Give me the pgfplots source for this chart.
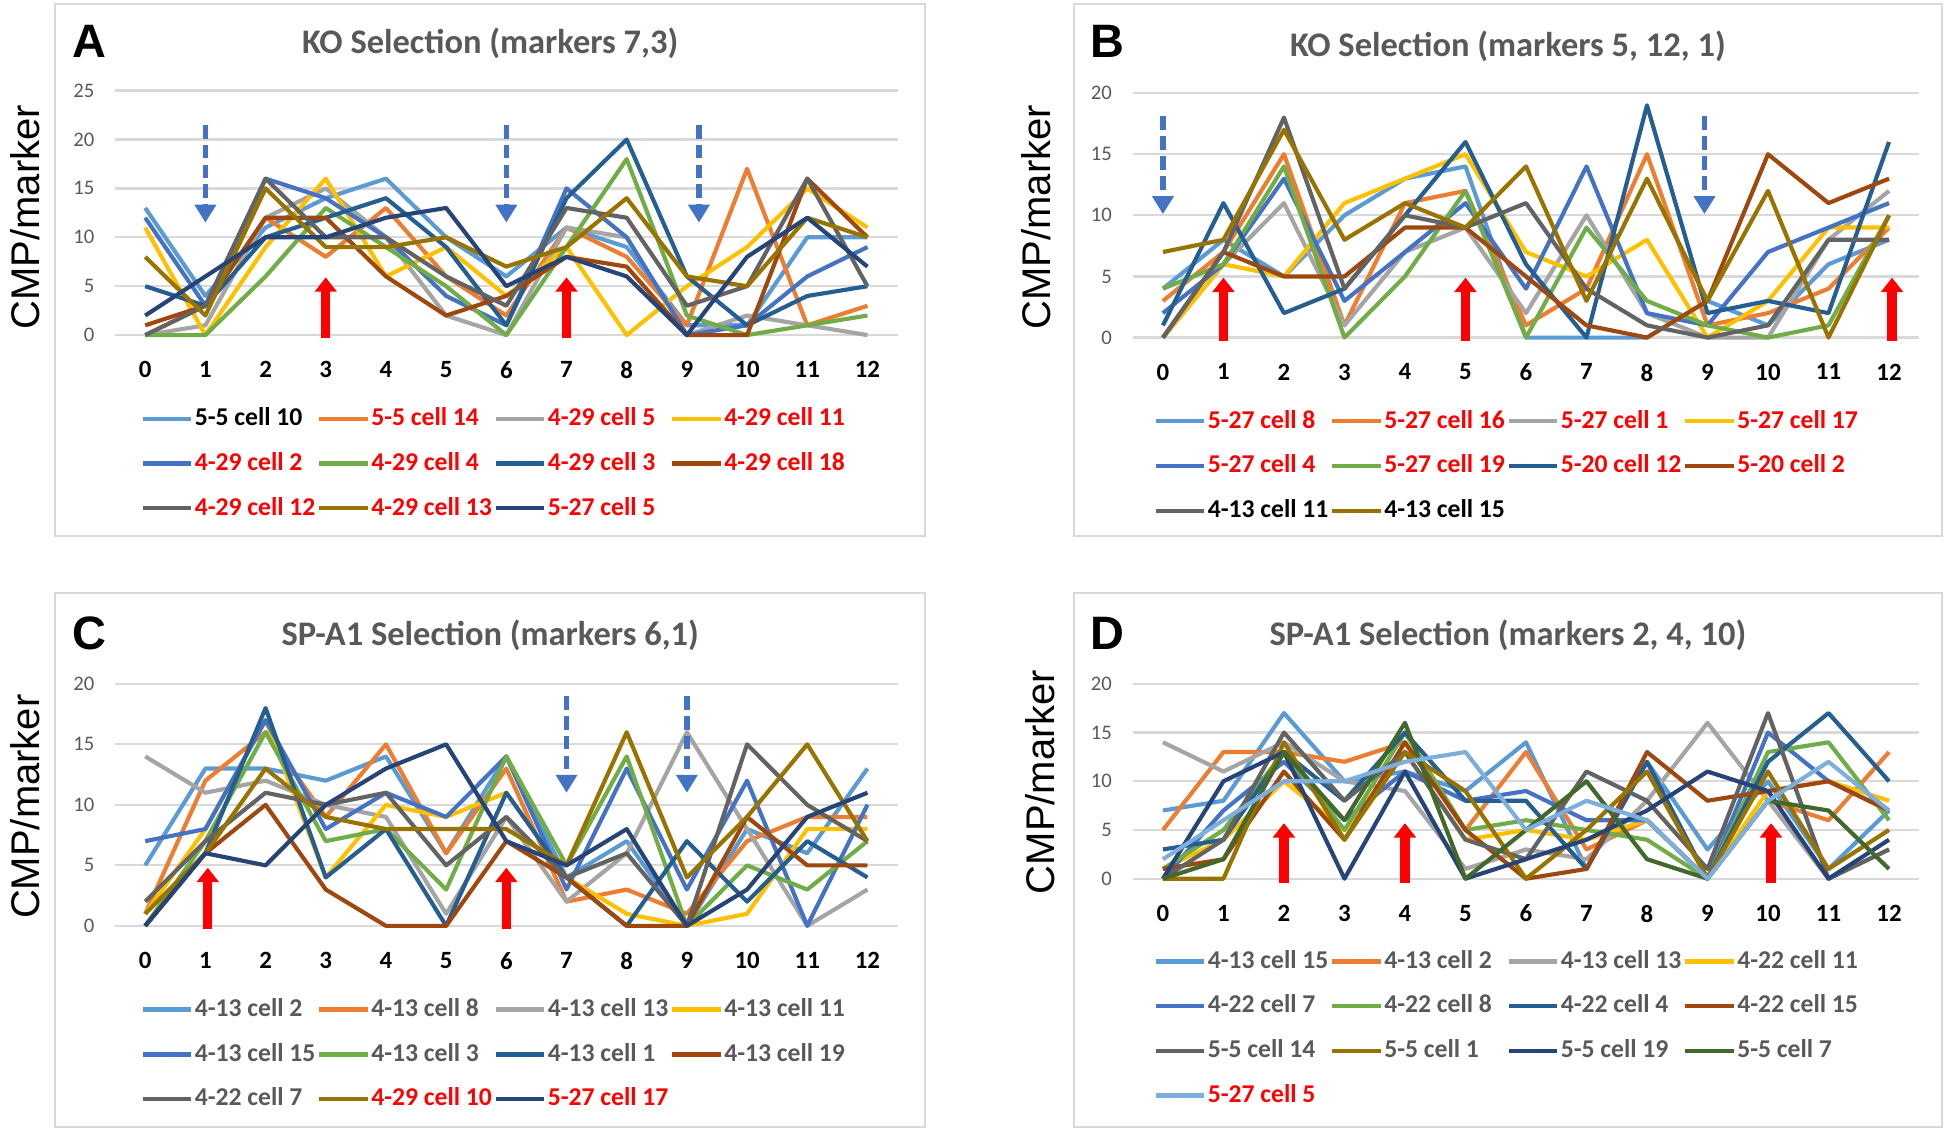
\documentclass[border=0pt]{standalone}
\usepackage{fontspec}
\setmainfont{Carlito}
\newfontfamily\arialfont{Liberation Sans}
\usepackage{pgfplots}
\pgfplotsset{compat=1.18}
\usetikzlibrary{arrows.meta}
\definecolor{c1}{HTML}{5B9BD5}
\definecolor{c2}{HTML}{ED7D31}
\definecolor{c3}{HTML}{A5A5A5}
\definecolor{c4}{HTML}{FFC000}
\definecolor{c5}{HTML}{4472C4}
\definecolor{c6}{HTML}{70AD47}
\definecolor{c7}{HTML}{255E91}
\definecolor{c8}{HTML}{9E480E}
\definecolor{c9}{HTML}{636363}
\definecolor{c10}{HTML}{997300}
\definecolor{c11}{HTML}{264478}
\definecolor{c12}{HTML}{43682B}
\definecolor{c13}{HTML}{7CAFDD}
\definecolor{gridgray}{HTML}{D9D9D9}
\definecolor{boxgray}{HTML}{D9D9D9}
\definecolor{txtgray}{HTML}{595959}
\definecolor{arrblue}{HTML}{4472C4}
\definecolor{myred}{HTML}{FF0000}
\newcommand{\R}[1]{\makebox[41.9pt][l]{\textcolor{myred}{#1}}}
\newcommand{\K}[1]{\makebox[41.9pt][l]{\textcolor{black}{#1}}}
\newcommand{\G}[1]{\makebox[41.9pt][l]{\textcolor{txtgray}{#1}}}
\tikzset{
  bluearr/.style={arrblue, line width=1.9pt, dash pattern=on 5pt off 2.2pt, -{Triangle[width=7.5pt,length=6.5pt]}},
  redarr/.style={myred, line width=3.4pt, -{Triangle[width=7.8pt,length=5.2pt]}},
}
\pgfplotsset{
  panel/.style={
    scale only axis,
    xmin=-0.5, xmax=12.5, ymin=0,
    axis line style={draw=none},
    tick style={draw=none},
    major tick length=0pt,
    xtick={0,...,12},
    ymajorgrids,
    grid style={color=gridgray, line width=0.8pt},
    /pgf/number format/assume math mode=true,
    xticklabel style={font=\fontsize{9}{10}\selectfont\bfseries, text=black, yshift=-6pt},
    yticklabel style={font=\fontsize{7.5}{9}\selectfont, text=txtgray, xshift=-4pt},
    clip=false,
    legend columns=4,
    legend cell align=left,
    legend style={draw=none, fill=none, inner sep=0pt, row sep=4.2pt,
      nodes={inner xsep=0.5pt},
      font=\fontsize{9.3}{10}\selectfont\bfseries,
      /tikz/every even column/.append style={column sep=2pt},
      anchor=north west},
    legend image code/.code={\draw[##1, line width=1.6pt] (0pt,0pt) -- (17.5pt,0pt);},
    every axis plot/.append style={line width=1.5pt, mark=none, line join=round},
  },
}
\begin{document}
\begin{tikzpicture}
\useasboundingbox (0,0) rectangle (705.6pt,410.85pt);
% panel boxes
\draw[boxgray, line width=0.7pt] (19.8pt,216.45pt) rectangle (335.25pt,409.5pt);
\draw[boxgray, line width=0.7pt] (389.25pt,216.45pt) rectangle (704.25pt,409.5pt);
\draw[boxgray, line width=0.7pt] (19.8pt,2.25pt) rectangle (335.25pt,195.75pt);
\draw[boxgray, line width=0.7pt] (389.25pt,2.25pt) rectangle (704.25pt,195.75pt);
% letters
\node[font=\arialfont\bfseries\fontsize{17}{17}\selectfont] at (32.4pt,396pt) {A};
\node[font=\arialfont\bfseries\fontsize{17}{17}\selectfont] at (401.4pt,396pt) {B};
\node[font=\arialfont\bfseries\fontsize{17}{17}\selectfont] at (32.4pt,181.35pt) {C};
\node[font=\arialfont\bfseries\fontsize{17}{17}\selectfont] at (401.4pt,181.35pt) {D};
% titles
\node[font=\bfseries\fontsize{12.5}{12.5}\selectfont, text=txtgray] at (177.75pt,395.1pt) {KO Selection (markers 7,3)};
\node[font=\bfseries\fontsize{12.5}{12.5}\selectfont, text=txtgray] at (546.75pt,394.2pt) {KO Selection (markers 5, 12, 1)};
\node[font=\bfseries\fontsize{12.5}{12.5}\selectfont, text=txtgray] at (177.75pt,180.45pt) {SP-A1 Selection (markers 6,1)};
\node[font=\bfseries\fontsize{12.5}{12.5}\selectfont, text=txtgray] at (546.75pt,180.45pt) {SP-A1 Selection (markers 2, 4, 10)};
% y labels
\node[font=\arialfont\fontsize{14.5}{15}\selectfont, rotate=90] at (9pt,332.1pt) {CMP/marker};
\node[font=\arialfont\fontsize{14.5}{15}\selectfont, rotate=90] at (375.75pt,332.1pt) {CMP/marker};
\node[font=\arialfont\fontsize{14.5}{15}\selectfont, rotate=90] at (9pt,118.35pt) {CMP/marker};
\node[font=\arialfont\fontsize{14.5}{15}\selectfont, rotate=90] at (377.1pt,127.35pt) {CMP/marker};

% ===== Panel A =====
\begin{axis}[panel, at={(41.74pt,289.35pt)}, anchor=south west,
  width=283.7pt, height=88.65pt, ymax=25, ytick={0,5,...,25},
  legend style={at={(0.032,-0.272)}}]
\addplot[c1] coordinates {(0,13)(1,4)(2,11)(3,14)(4,16)(5,10)(6,6)(7,11)(8,9)(9,1)(10,1)(11,10)(12,10)};
\addlegendentry{\K{5-5 cell 10}}
\addplot[c2] coordinates {(0,0)(1,3)(2,12)(3,8)(4,13)(5,6)(6,2)(7,11)(8,8)(9,1)(10,17)(11,1)(12,3)};
\addlegendentry{\R{5-5 cell 14}}
\addplot[c3] coordinates {(0,0)(1,1)(2,12)(3,15)(4,10)(5,2)(6,0)(7,11)(8,10)(9,0)(10,2)(11,1)(12,0)};
\addlegendentry{\R{4-29 cell 5}}
\addplot[c4] coordinates {(0,11)(1,0)(2,9)(3,16)(4,6)(5,9)(6,4)(7,9)(8,0)(9,5)(10,9)(11,15)(12,11)};
\addlegendentry{\R{4-29 cell 11}}
\addplot[c5] coordinates {(0,12)(1,3)(2,16)(3,14)(4,10)(5,4)(6,1)(7,15)(8,10)(9,0)(10,1)(11,6)(12,9)};
\addlegendentry{\R{4-29 cell 2}}
\addplot[c6] coordinates {(0,0)(1,0)(2,6)(3,13)(4,9)(5,5)(6,0)(7,9)(8,18)(9,2)(10,0)(11,1)(12,2)};
\addlegendentry{\R{4-29 cell 4}}
\addplot[c7] coordinates {(0,5)(1,3)(2,10)(3,12)(4,14)(5,9)(6,1)(7,14)(8,20)(9,6)(10,1)(11,4)(12,5)};
\addlegendentry{\R{4-29 cell 3}}
\addplot[c8] coordinates {(0,1)(1,3)(2,12)(3,12)(4,6)(5,2)(6,4)(7,8)(8,7)(9,0)(10,0)(11,16)(12,10)};
\addlegendentry{\R{4-29 cell 18}}
\addplot[c9] coordinates {(0,0)(1,3)(2,16)(3,10)(4,10)(5,6)(6,3)(7,13)(8,12)(9,3)(10,5)(11,16)(12,5)};
\addlegendentry{\R{4-29 cell 12}}
\addplot[c10] coordinates {(0,8)(1,2)(2,15)(3,9)(4,9)(5,10)(6,7)(7,9)(8,14)(9,6)(10,5)(11,12)(12,10)};
\addlegendentry{\R{4-29 cell 13}}
\addplot[c11] coordinates {(0,2)(1,6)(2,10)(3,10)(4,12)(5,13)(6,5)(7,8)(8,6)(9,0)(10,8)(11,12)(12,7)};
\addlegendentry{\R{5-27 cell 5}}
\draw[bluearr] (axis cs:1,21.5) -- (axis cs:1,11.5);
\draw[bluearr] (axis cs:6,21.5) -- (axis cs:6,11.5);
\draw[bluearr] (axis cs:9.2,21.5) -- (axis cs:9.2,11.5);
\draw[redarr] (axis cs:3,-0.3) -- (axis cs:3,5.9);
\draw[redarr] (axis cs:7,-0.3) -- (axis cs:7,5.9);
\end{axis}

% ===== Panel B =====
\begin{axis}[panel, at={(410.7pt,288.45pt)}, anchor=south west,
  width=285.2pt, height=88.65pt, ymax=20, ytick={0,5,...,20},
  legend style={at={(0.026,-0.272)}}]
\addplot[c1] coordinates {(0,4)(1,8)(2,5)(3,10)(4,13)(5,14)(6,0)(7,0)(8,0)(9,3)(10,1)(11,6)(12,8)};
\addlegendentry{\R{5-27 cell 8}}
\addplot[c2] coordinates {(0,3)(1,7)(2,15)(3,1)(4,11)(5,12)(6,1)(7,4)(8,15)(9,1)(10,2)(11,4)(12,9)};
\addlegendentry{\R{5-27 cell 16}}
\addplot[c3] coordinates {(0,0)(1,6)(2,11)(3,1)(4,7)(5,9)(6,2)(7,10)(8,2)(9,0)(10,0)(11,8)(12,12)};
\addlegendentry{\R{5-27 cell 1}}
\addplot[c4] coordinates {(0,0)(1,6)(2,5)(3,11)(4,13)(5,15)(6,7)(7,5)(8,8)(9,0)(10,3)(11,9)(12,9)};
\addlegendentry{\R{5-27 cell 17}}
\addplot[c5] coordinates {(0,2)(1,6)(2,13)(3,3)(4,7)(5,11)(6,4)(7,14)(8,2)(9,1)(10,7)(11,9)(12,11)};
\addlegendentry{\R{5-27 cell 4}}
\addplot[c6] coordinates {(0,4)(1,6)(2,14)(3,0)(4,5)(5,12)(6,0)(7,9)(8,3)(9,1)(10,0)(11,1)(12,10)};
\addlegendentry{\R{5-27 cell 19}}
\addplot[c7] coordinates {(0,1)(1,11)(2,2)(3,4)(4,10)(5,16)(6,6)(7,0)(8,19)(9,2)(10,3)(11,2)(12,16)};
\addlegendentry{\R{5-20 cell 12}}
\addplot[c8] coordinates {(0,0)(1,7)(2,5)(3,5)(4,9)(5,9)(6,5)(7,1)(8,0)(9,3)(10,15)(11,11)(12,13)};
\addlegendentry{\R{5-20 cell 2}}
\addplot[c9] coordinates {(0,0)(1,7)(2,18)(3,4)(4,10)(5,9)(6,11)(7,4)(8,1)(9,0)(10,1)(11,8)(12,8)};
\addlegendentry{\K{4-13 cell 11}}
\addplot[c10] coordinates {(0,7)(1,8)(2,17)(3,8)(4,11)(5,9)(6,14)(7,3)(8,13)(9,3)(10,12)(11,0)(12,10)};
\addlegendentry{\K{4-13 cell 15}}
\draw[bluearr] (axis cs:0,18.1) -- (axis cs:0,10.1);
\draw[bluearr] (axis cs:8.95,18.1) -- (axis cs:8.95,10.1);
\draw[redarr] (axis cs:1,-0.3) -- (axis cs:1,4.9);
\draw[redarr] (axis cs:5,-0.3) -- (axis cs:5,4.9);
\draw[redarr] (axis cs:12.05,-0.3) -- (axis cs:12.05,4.9);
\end{axis}

% ===== Panel C =====
\begin{axis}[panel, at={(41.74pt,75.15pt)}, anchor=south west,
  width=283.7pt, height=87.75pt, ymax=20, ytick={0,5,...,20},
  legend style={at={(0.032,-0.275)}}]
\addplot[c1] coordinates {(0,5)(1,13)(2,13)(3,12)(4,14)(5,6)(6,14)(7,4)(8,7)(9,0)(10,8)(11,6)(12,13)};
\addlegendentry{\G{4-13 cell 2}}
\addplot[c2] coordinates {(0,1)(1,12)(2,16)(3,9)(4,15)(5,6)(6,13)(7,2)(8,3)(9,1)(10,7)(11,9)(12,9)};
\addlegendentry{\G{4-13 cell 8}}
\addplot[c3] coordinates {(0,14)(1,11)(2,12)(3,10)(4,9)(5,1)(6,9)(7,2)(8,6)(9,16)(10,8)(11,0)(12,3)};
\addlegendentry{\G{4-13 cell 13}}
\addplot[c4] coordinates {(0,1)(1,8)(2,17)(3,4)(4,10)(5,9)(6,11)(7,4)(8,1)(9,0)(10,1)(11,8)(12,8)};
\addlegendentry{\G{4-13 cell 11}}
\addplot[c5] coordinates {(0,7)(1,8)(2,17)(3,8)(4,11)(5,9)(6,14)(7,3)(8,13)(9,3)(10,12)(11,0)(12,10)};
\addlegendentry{\G{4-13 cell 15}}
\addplot[c6] coordinates {(0,0)(1,7)(2,16)(3,7)(4,8)(5,3)(6,14)(7,5)(8,14)(9,0)(10,5)(11,3)(12,7)};
\addlegendentry{\G{4-13 cell 3}}
\addplot[c7] coordinates {(0,0)(1,6)(2,18)(3,4)(4,8)(5,0)(6,11)(7,4)(8,0)(9,7)(10,2)(11,7)(12,4)};
\addlegendentry{\G{4-13 cell 1}}
\addplot[c8] coordinates {(0,0)(1,6)(2,10)(3,3)(4,0)(5,0)(6,7)(7,4)(8,0)(9,0)(10,9)(11,5)(12,5)};
\addlegendentry{\G{4-13 cell 19}}
\addplot[c9] coordinates {(0,2)(1,7)(2,11)(3,10)(4,11)(5,5)(6,9)(7,4)(8,6)(9,0)(10,15)(11,10)(12,7)};
\addlegendentry{\G{4-22 cell 7}}
\addplot[c10] coordinates {(0,1)(1,6)(2,13)(3,9)(4,8)(5,8)(6,8)(7,5)(8,16)(9,4)(10,9)(11,15)(12,7)};
\addlegendentry{\R{4-29 cell 10}}
\addplot[c11] coordinates {(0,0)(1,6)(2,5)(3,10)(4,13)(5,15)(6,7)(7,5)(8,8)(9,0)(10,3)(11,9)(12,11)};
\addlegendentry{\R{5-27 cell 17}}
\draw[bluearr] (axis cs:7,19) -- (axis cs:7,11);
\draw[bluearr] (axis cs:9,19) -- (axis cs:9,11);
\draw[redarr] (axis cs:1.04,-0.3) -- (axis cs:1.04,4.8);
\draw[redarr] (axis cs:6,-0.3) -- (axis cs:6,4.8);
\end{axis}

% ===== Panel D =====
\begin{axis}[panel, at={(410.7pt,92.25pt)}, anchor=south west,
  width=285.2pt, height=70.65pt, ymax=20, ytick={0,5,...,20},
  legend style={at={(0.026,-0.336)}}]
\addplot[c1] coordinates {(0,7)(1,8)(2,17)(3,10)(4,11)(5,9)(6,14)(7,1)(8,12)(9,3)(10,10)(11,1)(12,7)};
\addlegendentry{\G{4-13 cell 15}}
\addplot[c2] coordinates {(0,5)(1,13)(2,13)(3,12)(4,14)(5,5)(6,13)(7,3)(8,6)(9,0)(10,8)(11,6)(12,13)};
\addlegendentry{\G{4-13 cell 2}}
\addplot[c3] coordinates {(0,14)(1,11)(2,14)(3,10)(4,9)(5,1)(6,3)(7,2)(8,8)(9,16)(10,8)(11,0)(12,3)};
\addlegendentry{\G{4-13 cell 13}}
\addplot[c4] coordinates {(0,1)(1,4)(2,10)(3,5)(4,13)(5,4)(6,5)(7,4)(8,6)(9,0)(10,9)(11,10)(12,8)};
\addlegendentry{\G{4-22 cell 11}}
\addplot[c5] coordinates {(0,0)(1,7)(2,12)(3,6)(4,11)(5,8)(6,9)(7,6)(8,6)(9,0)(10,15)(11,10)(12,7)};
\addlegendentry{\G{4-22 cell 7}}
\addplot[c6] coordinates {(0,1)(1,5)(2,13)(3,5)(4,15)(5,5)(6,6)(7,5)(8,4)(9,0)(10,13)(11,14)(12,6)};
\addlegendentry{\G{4-22 cell 8}}
\addplot[c7] coordinates {(0,3)(1,4)(2,13)(3,8)(4,15)(5,8)(6,8)(7,1)(8,12)(9,0)(10,12)(11,17)(12,10)};
\addlegendentry{\G{4-22 cell 4}}
\addplot[c8] coordinates {(0,1)(1,2)(2,11)(3,4)(4,14)(5,5)(6,0)(7,1)(8,13)(9,8)(10,9)(11,10)(12,7)};
\addlegendentry{\G{4-22 cell 15}}
\addplot[c9] coordinates {(0,0)(1,4)(2,15)(3,8)(4,13)(5,4)(6,2)(7,11)(8,8)(9,1)(10,17)(11,0)(12,3)};
\addlegendentry{\G{5-5 cell 14}}
\addplot[c10] coordinates {(0,0)(1,0)(2,14)(3,4)(4,13)(5,9)(6,0)(7,5)(8,11)(9,0)(10,11)(11,1)(12,5)};
\addlegendentry{\G{5-5 cell 1}}
\addplot[c11] coordinates {(0,0)(1,10)(2,13)(3,0)(4,11)(5,0)(6,2)(7,4)(8,7)(9,11)(10,9)(11,0)(12,4)};
\addlegendentry{\G{5-5 cell 19}}
\addplot[c12] coordinates {(0,0)(1,2)(2,13)(3,6)(4,16)(5,0)(6,5)(7,10)(8,2)(9,0)(10,8)(11,7)(12,1)};
\addlegendentry{\G{5-5 cell 7}}
\addplot[c13] coordinates {(0,2)(1,6)(2,10)(3,10)(4,12)(5,13)(6,5)(7,8)(8,6)(9,0)(10,8)(11,12)(12,7)};
\addlegendentry{\R{5-27 cell 5}}
\draw[redarr] (axis cs:2,-0.4) -- (axis cs:2,5.7);
\draw[redarr] (axis cs:4,-0.4) -- (axis cs:4,5.7);
\draw[redarr] (axis cs:10.05,-0.4) -- (axis cs:10.05,5.7);
\end{axis}
\end{tikzpicture}
\end{document}
